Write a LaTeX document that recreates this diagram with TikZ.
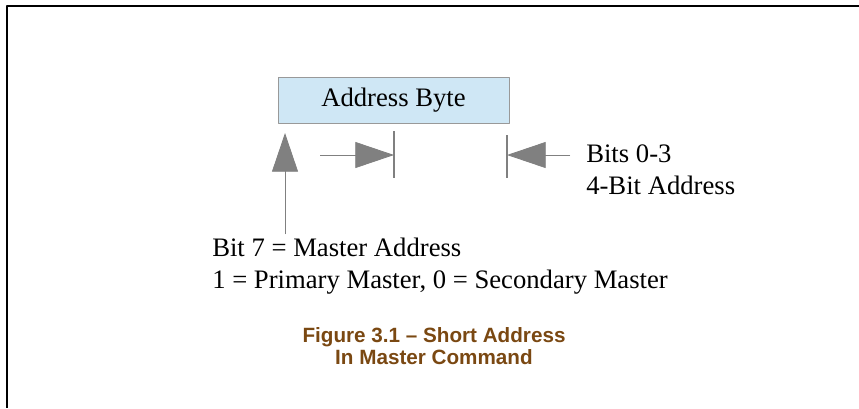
\documentclass[tikz,border=0pt]{standalone}
\usepackage{fontspec}
\setmainfont{Liberation Serif}
\newfontfamily\capfont{Liberation Sans}
\usetikzlibrary{arrows.meta}
\definecolor{bytefill}{RGB}{207,231,245}
\definecolor{capbrown}{RGB}{122,72,18}
\definecolor{arrgray}{RGB}{128,128,128}
\begin{document}
\begin{tikzpicture}[x=0.75pt, y=-0.75pt, line join=round, >={Triangle[width=19.5pt,length=29pt]},
	bytebox/.style={draw=arrgray!80, fill=bytefill, minimum width=173pt, minimum height=34.5pt, inner sep=0pt, font=\fontsize{20}{24}\selectfont},
	note/.style={inner sep=0pt, align=left, font=\fontsize{20}{24}\selectfont},
	pointer/.style={draw=arrgray, fill=arrgray, line width=0.6pt},
	bar/.style={draw=arrgray, line width=0.8pt}]
	\useasboundingbox (0,0) rectangle (859,408);
	\draw[line width=1.2pt] (859,6) -- (7,6) -- (7,408); % frame
	\node[bytebox] (byte) at (393.5,100) {Address Byte};
	% bit 7
	\coordinate (b7top) at (285,133);
	\coordinate (b7bot) at (285,234);
	\draw[pointer,->] (b7bot) -- (b7top);
	\node[note, anchor=west] (bit7) at (212,266) {Bit 7 = Master Address\\1 = Primary Master, 0 = Secondary Master};
	% bits 0-3
	\coordinate (lo) at (394,155);
	\coordinate (hi) at (507,155);
	\draw[pointer,->] (320,155) -- (lo);
	\draw[bar] ([yshift=-17]lo) -- ([yshift=18]lo);
	\draw[pointer,->] (570,155) -- (hi);
	\draw[bar] ([yshift=-17]hi) -- ([yshift=15]hi);
	\node[note, anchor=west] (bits) at (586,170) {Bits 0-3\\4-Bit Address};
	% caption
	\node[align=center, inner sep=0pt, text=capbrown, font=\capfont\bfseries\fontsize{15.5}{16.5}\selectfont] (cap) at (434,346) {Figure 3.1 \textendash{} Short Address\\In Master Command};
\end{tikzpicture}
\end{document}
